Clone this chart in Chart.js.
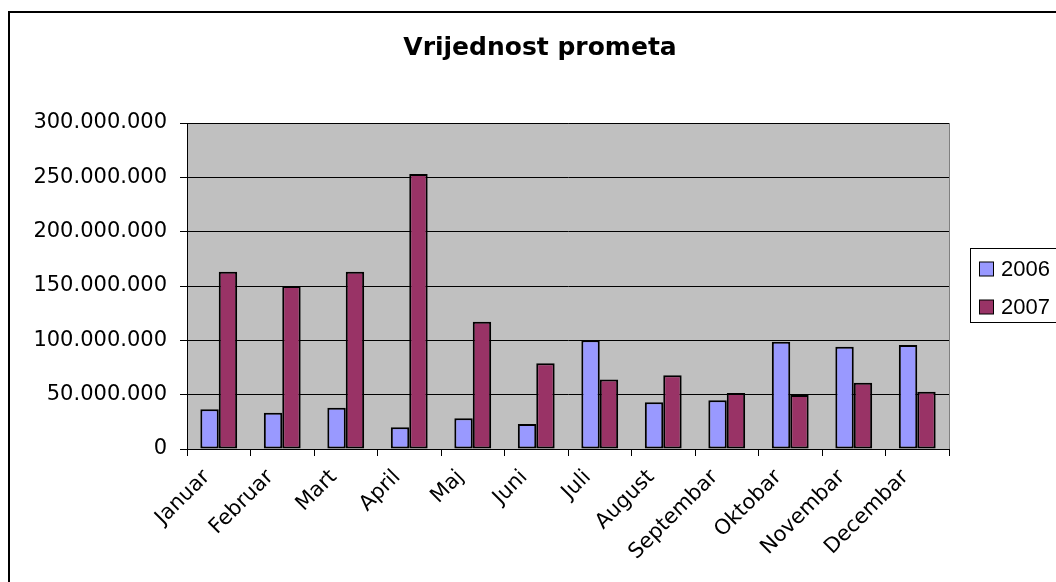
<!DOCTYPE html>
<html>
<head>
<meta charset="utf-8">
<script src="https://cdn.jsdelivr.net/npm/chart.js@4.4.1/dist/chart.umd.min.js"></script>
<style>
  html, body { margin: 0; padding: 0; background: #fff; }
  #wrap { width: 1056px; height: 582px; }
</style>
</head>
<body>
<div id="wrap"><canvas id="c" width="1056" height="582"></canvas></div>
<script>
const chartTitle = 'Vrijednost prometa';
const months = ['Januar', 'Februar', 'Mart', 'April', 'Maj', 'Juni', 'Juli', 'August', 'Septembar', 'Oktobar', 'Novembar', 'Decembar'];
const seriesLabels = ['2006', '2007'];
const values2006 = [36500000, 33400000, 38000000, 20000000, 28200000, 23000000, 100000000, 43000000, 44800000, 98700000, 94000000, 95700000];
const values2007 = [163200000, 150000000, 163200000, 253000000, 117000000, 79000000, 64000000, 67800000, 51500000, 49700000, 61000000, 52700000];
const yMin = 0;
const yMax = 300000000;
const yStep = 50000000;

function fmt(v) {
  return String(Math.round(v)).replace(/\B(?=(\d{3})+(?!\d))/g, '.');
}

const decorPlugin = {
  id: 'decor',
  beforeDraw(chart) {
    const ctx = chart.ctx;
    const a = chart.chartArea;
    ctx.save();
    ctx.fillStyle = '#ffffff';
    ctx.fillRect(0, 0, chart.width, chart.height);
    ctx.fillStyle = '#c0c0c0';
    ctx.fillRect(a.left, a.top, a.right - a.left, a.bottom - a.top);
    ctx.strokeStyle = '#808080';
    ctx.lineWidth = 1;
    ctx.strokeRect(Math.round(a.left) + 0.5, Math.round(a.top) + 0.5, Math.round(a.right - a.left), Math.round(a.bottom - a.top));
    ctx.restore();
  },
  afterDraw(chart) {
    const ctx = chart.ctx;
    ctx.save();
    // outer chart frame
    ctx.strokeStyle = '#000000';
    ctx.lineWidth = 2;
    ctx.strokeRect(9, 12, 1200, 800);
    // title
    ctx.fillStyle = '#000000';
    ctx.font = 'bold 25px "DejaVu Sans", sans-serif';
    ctx.textAlign = 'center';
    ctx.textBaseline = 'alphabetic';
    ctx.fillText(chartTitle, 540, 55);
    // legend
    const lx = 970.5, ly = 248.5, lw = 200, lh = 74;
    ctx.fillStyle = '#ffffff';
    ctx.fillRect(lx, ly, lw, lh);
    ctx.lineWidth = 1;
    ctx.strokeStyle = '#000000';
    ctx.strokeRect(lx, ly, lw, lh);
    ctx.font = '22px "Liberation Sans", Arial, sans-serif';
    ctx.textBaseline = 'middle';
    ctx.textAlign = 'left';
    chart.data.datasets.forEach((ds, i) => {
      const cy = 269 + i * 38;
      ctx.fillStyle = ds.backgroundColor;
      ctx.fillRect(979.5, cy - 7, 14, 14);
      ctx.strokeStyle = '#000000';
      ctx.lineWidth = 1;
      ctx.strokeRect(979.5, cy - 7, 14, 14);
      ctx.fillStyle = '#000000';
      ctx.fillText(ds.label, 1001, cy + 1);
    });
    ctx.restore();
  }
};

new Chart(document.getElementById('c'), {
  type: 'bar',
  data: {
    labels: months,
    datasets: [
      { label: seriesLabels[0], data: values2006, backgroundColor: '#9999ff', borderColor: '#000000', borderWidth: 2, borderSkipped: false },
      { label: seriesLabels[1], data: values2007, backgroundColor: '#993366', borderColor: '#000000', borderWidth: 2, borderSkipped: false }
    ]
  },
  options: {
    responsive: false,
    devicePixelRatio: 1,
    animation: false,
    layout: { padding: { left: 0, right: 107, top: 123, bottom: 0 } },
    datasets: { bar: { categoryPercentage: 0.58, barPercentage: 1.0 } },
    plugins: {
      legend: { display: false },
      tooltip: { enabled: false },
      title: { display: false }
    },
    scales: {
      x: {
        grid: { display: true, drawOnChartArea: false, drawTicks: true, tickLength: 7, color: '#000000', lineWidth: 1, offset: true },
        border: { display: true, color: '#000000', width: 1 },
        ticks: {
          autoSkip: false,
          maxRotation: 45,
          minRotation: 45,
          padding: 9,
          labelOffset: -12,
          color: '#000000',
          font: { family: '"DejaVu Sans", sans-serif', size: 21 }
        },
        afterFit(scale) { scale.height = 133; }
      },
      y: {
        min: yMin,
        max: yMax,
        grid: { color: '#000000', lineWidth: 1, drawTicks: true, tickLength: 7 },
        border: { display: true, color: '#000000', width: 1 },
        ticks: {
          stepSize: yStep,
          padding: 13,
          color: '#000000',
          font: { family: '"DejaVu Sans", sans-serif', size: 21 },
          callback: (v) => fmt(v)
        },
        afterFit(scale) { scale.width = 187; }
      }
    }
  },
  plugins: [decorPlugin]
});
</script>
</body>
</html>
